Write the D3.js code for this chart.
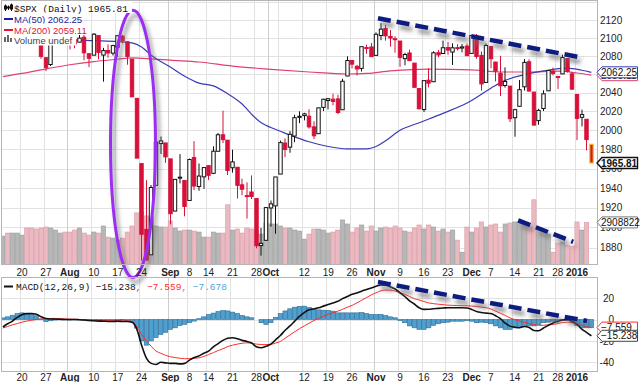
<!DOCTYPE html>
<html><head><meta charset="utf-8">
<script src="https://cdn.jsdelivr.net/npm/d3@7"></script>
<style>body{margin:0;background:#fff}svg{display:block}</style>
</head><body><svg id="c" width="640" height="382"></svg>
<script>
// ---------------- DATA ----------------
const dates = [
"2015-07-14","2015-07-15","2015-07-16","2015-07-17","2015-07-20","2015-07-21","2015-07-22","2015-07-23","2015-07-24","2015-07-27","2015-07-28","2015-07-29","2015-07-30","2015-07-31",
"2015-08-03","2015-08-04","2015-08-05","2015-08-06","2015-08-07","2015-08-10","2015-08-11","2015-08-12","2015-08-13","2015-08-14","2015-08-17","2015-08-18","2015-08-19","2015-08-20","2015-08-21","2015-08-24","2015-08-25","2015-08-26","2015-08-27","2015-08-28","2015-08-31",
"2015-09-01","2015-09-02","2015-09-03","2015-09-04","2015-09-08","2015-09-09","2015-09-10","2015-09-11","2015-09-14","2015-09-15","2015-09-16","2015-09-17","2015-09-18","2015-09-21","2015-09-22","2015-09-23","2015-09-24","2015-09-25","2015-09-28","2015-09-29","2015-09-30",
"2015-10-01","2015-10-02","2015-10-05","2015-10-06","2015-10-07","2015-10-08","2015-10-09","2015-10-12","2015-10-13","2015-10-14","2015-10-15","2015-10-16","2015-10-19","2015-10-20","2015-10-21","2015-10-22","2015-10-23","2015-10-26","2015-10-27","2015-10-28","2015-10-29","2015-10-30",
"2015-11-02","2015-11-03","2015-11-04","2015-11-05","2015-11-06","2015-11-09","2015-11-10","2015-11-11","2015-11-12","2015-11-13","2015-11-16","2015-11-17","2015-11-18","2015-11-19","2015-11-20","2015-11-23","2015-11-24","2015-11-25","2015-11-27","2015-11-30",
"2015-12-01","2015-12-02","2015-12-03","2015-12-04","2015-12-07","2015-12-08","2015-12-09","2015-12-10","2015-12-11","2015-12-14","2015-12-15","2015-12-16","2015-12-17","2015-12-18","2015-12-21","2015-12-22","2015-12-23","2015-12-24","2015-12-28","2015-12-29","2015-12-30","2015-12-31",
"2016-01-04","2016-01-05","2016-01-06","2016-01-07"];
const prevClose0 = 2099.60;
const open = [
2099.72,2109.02,2110.55,2126.80,2126.85,2127.55,2118.21,2114.16,2102.24,2078.19,2070.75,2094.70,2106.78,2111.60,
2104.49,2097.68,2095.27,2100.75,2082.61,2080.98,2102.66,2081.10,2086.19,2083.15,2089.70,2101.99,2095.69,2076.61,2034.08,1965.15,1898.08,1872.75,1942.77,1986.06,1986.73,
1970.09,1916.52,1950.79,1947.76,1927.30,1971.45,1941.59,1951.45,1963.06,1955.10,1978.02,1995.33,1989.66,1960.84,1961.39,1943.24,1932.24,1935.93,1929.18,1881.90,1887.14,
1919.65,1921.77,1954.33,1986.63,1982.34,1994.01,2013.73,2015.65,2015.00,2003.66,1996.47,2024.37,2031.73,2033.13,2033.47,2021.88,2058.19,2075.08,2068.75,2066.48,2088.35,2090.00,
2080.76,2102.63,2110.60,2101.68,2098.60,2096.56,2077.19,2083.41,2072.29,2044.64,2022.08,2053.67,2051.99,2083.70,2082.82,2089.41,2084.42,2089.30,2088.82,2090.95,
2082.93,2101.71,2080.71,2051.24,2090.42,2073.39,2061.17,2047.93,2047.27,2013.37,2025.55,2046.50,2073.76,2040.81,2010.27,2023.15,2042.20,2063.52,2057.77,2060.54,2077.34,2060.59,
2038.20,2013.78,2011.71,1985.32];
const high = [
2111.98,2114.14,2124.42,2128.91,2132.82,2128.49,2118.51,2116.87,2106.01,2078.19,2095.60,2110.60,2110.48,2114.24,
2105.70,2102.51,2112.66,2103.32,2082.61,2105.35,2102.66,2089.06,2092.93,2092.45,2102.87,2103.47,2096.17,2076.61,2034.08,1965.15,1948.04,1943.09,1989.60,1993.48,1986.73,
1970.09,1948.91,1975.01,1947.76,1970.42,1988.63,1965.29,1961.05,1963.06,1983.19,1997.26,2020.86,1989.66,1979.64,1961.39,1949.52,1945.82,1952.89,1929.18,1899.48,1920.53,
1927.21,1951.36,1989.17,1991.62,1999.31,2016.50,2020.13,2018.66,2022.34,2009.56,2024.15,2033.54,2034.45,2039.12,2037.97,2055.20,2079.74,2075.14,2070.37,2090.35,2092.52,2094.32,
2106.20,2116.48,2114.59,2108.78,2101.91,2096.56,2083.67,2086.94,2072.29,2044.64,2053.22,2066.69,2085.31,2086.74,2097.06,2095.61,2094.12,2093.00,2093.29,2093.81,
2103.37,2104.27,2085.00,2093.84,2090.42,2073.85,2080.33,2067.65,2047.27,2022.92,2053.87,2076.72,2076.37,2040.81,2022.90,2042.74,2064.73,2067.36,2057.77,2081.56,2077.34,2062.54,
2038.20,2021.94,2011.71,1985.32];
const low = [
2098.18,2102.49,2110.55,2119.88,2123.66,2115.40,2110.00,2098.63,2077.09,2063.52,2069.09,2094.08,2094.97,2102.07,
2087.31,2088.60,2095.27,2075.53,2067.91,2080.98,2076.49,2052.09,2078.26,2080.61,2079.30,2094.14,2070.53,2035.73,1970.89,1867.01,1867.08,1872.75,1942.77,1975.19,1965.98,
1903.07,1916.52,1944.72,1911.21,1927.30,1937.88,1937.19,1939.19,1948.27,1954.30,1977.93,1986.73,1953.45,1955.80,1929.22,1932.57,1908.92,1928.72,1879.21,1871.91,1887.14,
1900.70,1893.70,1954.33,1971.99,1976.44,1987.53,2007.61,2010.55,2001.78,1990.73,1996.47,2020.46,2022.31,2026.61,2017.22,2021.88,2058.19,2066.53,2058.84,2063.11,2082.63,2079.34,
2080.76,2097.51,2096.98,2090.41,2083.74,2068.24,2069.91,2074.85,2045.66,2022.02,2019.39,2045.90,2051.99,2078.76,2082.82,2081.39,2070.29,2086.30,2084.13,2080.41,
2082.93,2077.11,2042.35,2051.24,2066.78,2052.32,2036.53,2045.67,2008.80,1993.26,2025.55,2042.43,2041.66,2005.33,2005.93,2020.49,2042.20,2058.73,2044.20,2060.54,2061.97,2043.62,
1989.68,2004.17,1979.05,1965.81];
const close = [
2108.95,2107.40,2124.29,2126.64,2128.28,2119.21,2114.15,2102.15,2079.65,2067.64,2093.25,2108.57,2108.63,2103.84,
2098.04,2093.32,2099.84,2083.56,2077.57,2104.18,2084.07,2086.05,2083.39,2091.54,2102.44,2096.92,2079.61,2035.73,1970.89,1893.21,1867.61,1940.51,1987.66,1988.87,1972.18,
1913.85,1948.86,1951.13,1921.22,1969.41,1942.04,1952.29,1961.05,1953.03,1978.09,1995.31,1990.20,1958.03,1966.97,1942.74,1938.76,1932.24,1931.34,1881.77,1884.09,1920.03,
1923.82,1951.36,1987.05,1979.92,1995.83,2013.43,2014.89,2017.46,2003.69,1994.24,2023.86,2033.11,2033.66,2030.77,2018.94,2052.51,2075.15,2071.18,2065.89,2090.35,2089.41,2079.36,
2104.05,2109.79,2102.31,2099.93,2099.20,2078.58,2081.72,2075.00,2045.97,2023.04,2053.19,2050.44,2083.58,2081.24,2089.17,2086.59,2089.14,2088.87,2090.11,2080.41,
2102.63,2079.51,2049.62,2091.69,2077.07,2063.59,2047.62,2052.23,2012.37,2021.94,2043.41,2073.07,2041.89,2005.55,2021.15,2038.97,2064.29,2060.99,2056.50,2078.36,2063.36,2043.94,
2012.66,2016.71,1990.26,1965.81];
// volume, millions
const volume = [
1.96,2.17,2.17,2.17,2.03,2.52,2.52,2.45,2.52,2.59,2.52,2.38,2.17,2.24,
2.24,2.38,2.52,2.17,2.03,2.24,2.17,2.66,1.89,1.82,1.68,1.82,2.24,2.66,3.57,3.64,3.36,3.29,2.66,2.59,2.59,
3.01,2.52,2.31,2.38,2.38,2.31,2.24,1.89,1.89,2.24,2.17,2.17,4.13,2.38,2.45,2.17,2.52,2.45,2.31,2.10,2.87,
2.80,2.80,2.66,2.52,2.52,2.38,2.31,1.75,2.10,2.45,2.45,2.38,2.17,2.24,2.38,3.08,2.80,2.24,2.52,2.73,2.31,2.66,
2.31,2.52,2.59,2.52,2.66,2.52,2.31,2.24,2.52,2.73,2.45,2.73,2.59,2.31,2.45,2.24,2.38,1.68,0.84,2.59,
2.24,2.52,2.94,2.59,2.73,2.80,2.24,2.80,2.87,2.94,2.94,2.80,2.66,4.48,2.52,2.31,2.10,0.84,1.47,1.54,1.33,1.26,
2.94,2.38,2.908822,null];
const ma50Dates = ["2015-07-14","2015-07-20","2015-07-27","2015-08-03","2015-08-10","2015-08-17","2015-08-20","2015-08-24","2015-08-26","2015-08-28","2015-09-01","2015-09-04","2015-09-10","2015-09-15","2015-09-18","2015-09-23","2015-09-25","2015-09-29","2015-10-01","2015-10-05","2015-10-07","2015-10-13","2015-10-19","2015-10-23","2015-10-29","2015-11-02","2015-11-04","2015-11-09","2015-11-13","2015-11-20","2015-11-30","2015-12-07","2015-12-10","2015-12-16","2015-12-22","2015-12-30","2016-01-05","2016-01-07"];
const ma50 = [2099,2099,2098.5,2098,2097,2096,2094.5,2090,2081,2074,2068,2058,2050.5,2047.5,2039,2028,2017,2008,2003,1999,1995,1988,1983,1980.5,1980.5,1983,1989,2000,2008,2018,2029,2045,2053.5,2059.5,2063.7,2066.8,2064.5,2062.25];
const ma200Dates = ["2015-07-14","2015-07-20","2015-07-27","2015-08-03","2015-08-10","2015-08-17","2015-08-20","2015-08-26","2015-09-01","2015-09-10","2015-09-21","2015-10-01","2015-10-13","2015-10-23","2015-10-29","2015-11-05","2015-11-17","2015-12-01","2015-12-09","2015-12-17","2015-12-28","2016-01-04","2016-01-07"];
const ma200 = [2057.5,2061,2066,2070.5,2074,2076.5,2078,2077,2075.5,2073.5,2069,2065.5,2062.6,2060.4,2061,2063.7,2065.8,2064.8,2062.6,2062.6,2063.5,2061.5,2059.11];
const macd = [
-7,-4,-1.5,2,4.5,5.5,5.6,5,2.5,1,0.5,0.4,0.2,0,
0,0,-0.2,-0.5,-1,-1.2,-1.5,-1.6,-1.8,-1.8,-1.7,-1.8,-1.8,-2.5,-9,-24,-36,-41,-42,-40,-40.5,
-41,-41,-41.5,-41,-38,-35.5,-34,-31.5,-29.5,-25.5,-22.5,-19.5,-17.5,-17.1,-18,-19.5,-20.5,-22,-25.5,-26.4,-25,
-23,-19,-15,-10,-6,-1.5,3,6.5,9,10,11,12.5,14,15.5,17,19.5,21.5,23.5,24.8,26.5,28,29.5,
31,32.3,32,30.5,28.5,25,21.5,17.5,14.5,11,9.5,9.6,10.1,10.4,10.7,11,11,11,11,10.8,
9.4,7.5,6.5,6,5.6,3.5,0.8,-3.5,-6.2,-7.2,-7.7,-6.5,-7.5,-10.3,-10.5,-8,-5.5,-3.2,-1.8,-0.5,0,-1.8,
-4.6,-9,-12,-15.238];
const signal = [
-8,-6.5,-5,-3.8,-2.5,-1.5,-0.7,0,0.5,0.8,1,1,0.8,0.5,
0.3,0.2,0,-0.2,-0.4,-0.6,-0.8,-1,-1.1,-1.2,-1.2,-1.3,-1.4,-1.6,-7,-14,-20,-25,-29.5,-31.5,-33.5,
-34.8,-35.6,-36.2,-36.6,-36.6,-36.3,-35.8,-34.5,-32.8,-31,-29,-27.3,-25.3,-24,-23,-22.2,-21.8,-22.3,-23,-23.4,-23.5,
-23.3,-22,-20.5,-17.5,-14.5,-11.5,-8.5,-6,-3.5,-1,1.2,3,4.8,6.3,7.8,9.5,11.5,13.2,15.5,18,20.5,23,
25,26.8,27.5,27.4,26.5,25,23.5,21.5,19.5,18.2,16.8,15.5,14.8,14.3,13.8,13.4,13.2,13,12.9,12.8,
12.6,12.2,11.6,11,9.8,7.8,5.8,3.8,1.5,0,-1.5,-2.8,-3.8,-4.8,-5.5,-5.4,-5,-4.6,-3.8,-2.8,-2.5,-3,
-4.5,-5.5,-6.6,-7.559];
const histogram = [
1.5,2.5,4,5.5,6.2,5.8,5.2,3.5,0.5,-2,-1.2,-0.5,-0.3,-0.3,
-0.5,-0.3,-0.2,-0.5,-0.8,-0.8,-0.9,-1,-1,-0.8,-0.7,-0.5,-1,-2,-8,-20,-24,-20,-17,-14,-12,
-9.3,-7.8,-5.6,-4.5,-3,-1.5,0.8,2.5,4.5,6,7.5,8.4,8,6.9,5.6,3.7,2.5,1.6,0,-3,-4.7,
-3,2,5.5,8,10,11.5,12.3,12.5,11.2,9.5,9,8.7,8.5,7.8,6.2,6.2,6.2,6.2,6.2,6.5,5.6,4.7,
4.7,4.7,3.7,2.5,1.6,-1,-3,-6,-7.8,-9.3,-9.3,-7.8,-5.6,-4,-3,-2.5,-1.6,-1.6,-1.6,-1,
-1.6,-3,-2.5,-3,-4,-6,-7.8,-9.3,-9.3,-7.8,-6.9,-6.5,-6,-6,-4.7,-3,-2.5,-1.6,-1,-0.6,-1,-3,
-5.6,-7.8,-7.7,-7.678];
const priceTicks = [1880,1900,1920,1940,1960,1980,2000,2020,2040,2060,2080,2100,2120];
const macdTicks = [-40,-20,0,20];
const tickDates = ["2015-07-20","2015-07-27","2015-08-03","2015-08-10","2015-08-17","2015-08-24","2015-09-01","2015-09-08","2015-09-14","2015-09-21","2015-09-28","2015-10-01","2015-10-05","2015-10-12","2015-10-19","2015-10-26","2015-11-02","2015-11-09","2015-11-16","2015-11-23","2015-12-01","2015-12-07","2015-12-14","2015-12-21","2015-12-28","2016-01-04"];
const tickLabels = ["20","27","Aug","10","17","24","Sep","8","14","21","28","Oct","","12","19","26","Nov","9","16","23","Dec","7","14","21","28","2016"];
// annotations in data units: [bar position, value]
const priceTrend = [[78.4,2122],[121.3,2078]];
const volumeTrend = [[107.7,3.05],[119.2,1.56]];
const macdTrend = [[78.4,35],[122.1,-1.4]];
const ovalBars = [22.5,31.9];      // left/right bar positions
const ovalPrices = [2131,1850.5];  // top/bottom price levels

// ---------------- CHART ----------------
const svg = d3.select('#c');
const SANS = "'Liberation Sans', Arial, sans-serif";
const MONO = "'Liberation Mono', monospace";
const PL = 1.5, PR = 597.5, PT = 0.5, PB = 264.5, MT = 277.5, MB = 371.5;
const RED = '#d8103a';

const x = d3.scaleBand().domain(dates).range([0.47, 593.75]).paddingInner(0).paddingOuter(0);
const step = x.step();
const xc = d => x(d) + step / 2;
const xk = k => x.range()[0] + (k + 0.5) * step;
const y = d3.scaleLog().domain([1880, 2120]).range([247.5, 20]);
const yv = d3.scaleLinear().domain([0, 2.908822]).range([264.3, 222.4]);
const ym = d3.scaleLinear().domain([-40, 20]).range([362.3, 298.1]);

const defs = svg.append('defs');
defs.append('clipPath').attr('id', 'cp').append('rect').attr('x', PL).attr('y', PT).attr('width', PR - PL).attr('height', PB - PT);
defs.append('clipPath').attr('id', 'cm').append('rect').attr('x', PL).attr('y', MT).attr('width', PR - PL).attr('height', MB - MT);
const f = defs.append('filter').attr('id', 'sh').attr('filterUnits', 'userSpaceOnUse').attr('x', 0).attr('y', 0).attr('width', 640).attr('height', 382);
f.append('feGaussianBlur').attr('in', 'SourceAlpha').attr('stdDeviation', 2.2).attr('result', 'bl');
f.append('feOffset').attr('in', 'bl').attr('dx', 3).attr('dy', 5).attr('result', 'of');
f.append('feFlood').attr('flood-color', '#6e6e6e').attr('flood-opacity', 0.75);
f.append('feComposite').attr('in2', 'of').attr('operator', 'in');
const fm = f.append('feMerge'); fm.append('feMergeNode'); fm.append('feMergeNode').attr('in', 'SourceGraphic');

svg.append('rect').attr('width', 640).attr('height', 382).attr('fill', '#fff');

// grids
function grid(top, bottom, hVals, yScale) {
  const g = svg.append('g');
  g.selectAll('.h').data(hVals).join('line')
    .attr('x1', PL).attr('x2', PR).attr('y1', v => Math.round(yScale(v)) + 0.5).attr('y2', v => Math.round(yScale(v)) + 0.5)
    .attr('stroke', '#e2e2e2').attr('stroke-width', 1);
  g.selectAll('.v').data(tickDates).join('line')
    .attr('x1', d => Math.round(x(d)) + 0.5).attr('x2', d => Math.round(x(d)) + 0.5).attr('y1', top).attr('y2', bottom)
    .attr('stroke', (d, i) => isNaN(+tickLabels[i]) && tickLabels[i] !== '' ? '#cdcdcd' : '#e2e2e2').attr('stroke-width', 1);
}
grid(PT, PB, priceTicks.concat([2140]), y);
grid(MT, MB, macdTicks, ym);

const rows = dates.map((d, i) => ({ d, i, o: open[i], h: high[i], l: low[i], c: close[i], v: volume[i], pc: i ? close[i - 1] : prevClose0 }));

// volume bars
const pp = svg.append('g').attr('clip-path', 'url(#cp)');
pp.selectAll('.vol').data(rows.filter(r => r.v != null)).join('rect')
  .attr('x', r => x(r.d) + 0.25).attr('width', step - 0.5)
  .attr('y', r => yv(r.v)).attr('height', r => yv(0) - yv(r.v))
  .attr('fill', r => r.c < r.pc ? '#ebb9c1' : '#b7b7b7')
  .attr('stroke', r => r.c < r.pc ? '#d99aa5' : '#9c9c9c').attr('stroke-width', 0.6);

// moving averages
const lineMA = d3.line().x(p => xc(p[0])).y(p => y(p[1])).curve(d3.curveMonotoneX);
pp.append('path').attr('d', lineMA(ma200Dates.map((d, i) => [d, ma200[i]])))
  .attr('fill', 'none').attr('stroke', '#e0426c').attr('stroke-width', 1.2);
pp.append('path').attr('d', lineMA(ma50Dates.map((d, i) => [d, ma50[i]])))
  .attr('fill', 'none').attr('stroke', '#3b3bb8').attr('stroke-width', 1.2);

// candles
const bw = 3.4;
const cg = pp.append('g');
rows.forEach((r, i) => {
  const col = r.c < r.pc ? RED : '#111';
  const cxp = Math.round(xc(r.d) * 2) / 2;
  cg.append('line').attr('x1', cxp).attr('x2', cxp).attr('y1', y(r.h)).attr('y2', y(r.l)).attr('stroke', col).attr('stroke-width', 1);
  const top = y(Math.max(r.o, r.c)), bot = y(Math.min(r.o, r.c));
  const last = i === rows.length - 1;
  cg.append('rect').attr('x', cxp - bw / 2).attr('width', bw)
    .attr('y', top).attr('height', Math.max(1, bot - top))
    .attr('fill', r.c > r.o ? '#fff' : col)
    .attr('stroke', last ? '#f5c400' : col).attr('stroke-width', last ? 1.2 : 1);
});

// price annotations
const tl = d3.line().x(p => xk(p[0]));
svg.append('path').attr('d', tl.y(p => y(p[1]))(priceTrend)).attr('stroke', '#0c1a80').attr('stroke-width', 4.5)
  .attr('stroke-dasharray', '13,6').attr('fill', 'none').attr('filter', 'url(#sh)');
svg.append('path').attr('d', tl.y(p => yv(p[1]))(volumeTrend)).attr('stroke', '#0c1a80').attr('stroke-width', 4.5)
  .attr('stroke-dasharray', '13,6').attr('fill', 'none').attr('filter', 'url(#sh)');
svg.append('ellipse')
  .attr('cx', (xk(ovalBars[0]) + xk(ovalBars[1])) / 2).attr('rx', (xk(ovalBars[1]) - xk(ovalBars[0])) / 2)
  .attr('cy', (y(ovalPrices[0]) + y(ovalPrices[1])) / 2).attr('ry', (y(ovalPrices[1]) - y(ovalPrices[0])) / 2)
  .attr('fill', 'none').attr('stroke', '#9b2ff2').attr('stroke-width', 3).attr('filter', 'url(#sh)');

// MACD panel
const mp = svg.append('g').attr('clip-path', 'url(#cm)');
mp.selectAll('.hb').data(rows).join('rect')
  .attr('x', r => x(r.d) + 0.2).attr('width', step - 0.4)
  .attr('y', r => Math.min(ym(0), ym(histogram[r.i]))).attr('height', r => Math.abs(ym(histogram[r.i]) - ym(0)))
  .attr('fill', '#4f9fcf').attr('stroke', '#2d6c96').attr('stroke-width', 0.6);
const lm = d3.line().x(p => xc(p[0])).y(p => ym(p[1])).curve(d3.curveMonotoneX);
mp.append('path').attr('d', lm(dates.map((d, i) => [d, signal[i]]))).attr('fill', 'none').attr('stroke', '#ff2b2b').attr('stroke-width', 1);
mp.append('path').attr('d', lm(dates.map((d, i) => [d, macd[i]]))).attr('fill', 'none').attr('stroke', '#111').attr('stroke-width', 1.6);
svg.append('path').attr('d', tl.y(p => ym(p[1]))(macdTrend)).attr('stroke', '#0c1a80').attr('stroke-width', 4.5)
  .attr('stroke-dasharray', '13,6').attr('fill', 'none').attr('filter', 'url(#sh)');

// panel frames
[[PT, PB], [MT, MB]].forEach(([t, b]) => {
  svg.append('rect').attr('x', PL).attr('y', t).attr('width', PR - PL).attr('height', b - t)
    .attr('fill', 'none').attr('stroke', '#b5b5b5').attr('stroke-width', 1);
});

// x axes
[276, 380.5].forEach(yy => {
  svg.append('g').selectAll('text').data(tickDates).join('text')
    .attr('x', d => xc(d)).attr('y', yy).attr('text-anchor', 'middle')
    .attr('font-family', SANS).attr('font-size', 10).attr('fill', '#222')
    .attr('font-weight', (d, i) => isNaN(+tickLabels[i]) || tickLabels[i] === '2016' ? 'bold' : 'normal')
    .text((d, i) => tickLabels[i]);
});

// right axes
svg.append('g').selectAll('text').data(priceTicks).join('text')
  .attr('x', 600).attr('y', v => y(v) + 3.6).attr('font-family', SANS).attr('font-size', 10).attr('fill', '#222').text(v => v);
svg.append('g').selectAll('text').data(macdTicks).join('text')
  .attr('x', 614).attr('y', v => ym(v) + 3.6).attr('text-anchor', 'end').attr('font-family', SANS).attr('font-size', 10).attr('fill', '#222').text(v => v);

function tag(yy, txt, stroke, bold, sw) {
  const g = svg.append('g');
  g.append('path').attr('d', `M597,${yy}L602,${yy - 5.5}L637.5,${yy - 5.5}L637.5,${yy + 5.5}L602,${yy + 5.5}Z`)
    .attr('fill', '#fff').attr('stroke', stroke).attr('stroke-width', sw || 1);
  g.append('text').attr('x', 601).attr('y', yy + 3.6).attr('font-family', SANS).attr('font-size', 10)
    .attr('font-weight', bold ? 'bold' : 'normal').attr('fill', '#111').text(txt);
}
tag(y(ma200[ma200.length - 1]), d3.format('.2f')(ma200[ma200.length - 1]), '#e0426c');
tag(y(ma50[ma50.length - 1]), d3.format('.2f')(ma50[ma50.length - 1]), '#3b3bb8');
tag(y(close[close.length - 1]), d3.format('.2f')(close[close.length - 1]), '#111', true, 1.4);
const lastVol = volume.filter(v => v != null).slice(-1)[0];
tag(yv(lastVol), d3.format('d')(Math.round(lastVol * 1e6)), '#777');
tag(ym(signal[signal.length - 1]), d3.format('.3f')(signal[signal.length - 1]), '#ff2b2b');
tag(ym(macd[macd.length - 1]), d3.format('.3f')(macd[macd.length - 1]), '#444');

// legend (price panel)
const lg = svg.append('g');
const legendRows = [
  { t: '$SPX (Daily) ' + d3.format('.2f')(close[close.length - 1]), f: MONO, c: '#111', y: 11.5, w: 130 },
  { t: 'MA(50) ' + d3.format('.2f')(ma50[ma50.length - 1]), f: SANS, c: '#1c1c9c', y: 22.5, w: 72, line: '#1c1c9c' },
  { t: 'MA(200) ' + d3.format('.2f')(ma200[ma200.length - 1]), f: SANS, c: '#e0143c', y: 33.5, w: 78, line: '#e0143c' },
  { t: 'Volume undef', f: SANS, c: '#444', y: 44, w: 74 }
];
legendRows.forEach((r, i) => {
  lg.append('rect').attr('x', PL + 0.5).attr('y', r.y - 10).attr('width', r.w).attr('height', 11.5).attr('fill', '#fff');
  lg.append('text').attr('x', 14).attr('y', r.y).attr('font-family', r.f).attr('font-size', r.f === MONO ? 9.5 : 9.5)
    .attr('fill', r.c).text(r.t);
  if (r.line) lg.append('line').attr('x1', 4).attr('x2', 13).attr('y1', r.y - 3.5).attr('y2', r.y - 3.5).attr('stroke', r.line).attr('stroke-width', 2);
});
// small icons
const ic = lg.append('g').attr('stroke', '#111').attr('stroke-width', 1);
[[5, 4, 10], [8, 5, 9], [11, 3, 10]].forEach(([xx, a, b]) => {
  ic.append('line').attr('x1', xx + 0.5).attr('x2', xx + 0.5).attr('y1', a + 0.5).attr('y2', b + 1);
  ic.append('rect').attr('x', xx - 0.5).attr('y', a + 2).attr('width', 2).attr('height', b - a - 3).attr('fill', xx === 8 ? '#fff' : '#111');
});
[[4, 4], [7, 6], [10, 3]].forEach(([xx, hh]) => {
  lg.append('rect').attr('x', xx).attr('y', 42 - hh - 1).attr('width', 2).attr('height', hh + 1).attr('fill', '#666');
});

// MACD legend
const ml = svg.append('text').attr('x', 16).attr('y', 290).attr('font-family', MONO).attr('font-size', 9.5);
ml.append('tspan').attr('fill', '#111').text('MACD(12,26,9) ' + d3.format('.3f')(macd[macd.length - 1]));
ml.append('tspan').attr('fill', '#ff2b2b').text(', ' + d3.format('.3f')(signal[signal.length - 1]));
ml.append('tspan').attr('fill', '#4aa6e0').text(', ' + d3.format('.3f')(histogram[histogram.length - 1]));
svg.append('line').attr('x1', 4).attr('x2', 13).attr('y1', 286.5).attr('y2', 286.5).attr('stroke', '#111').attr('stroke-width', 2);
</script></body></html>
